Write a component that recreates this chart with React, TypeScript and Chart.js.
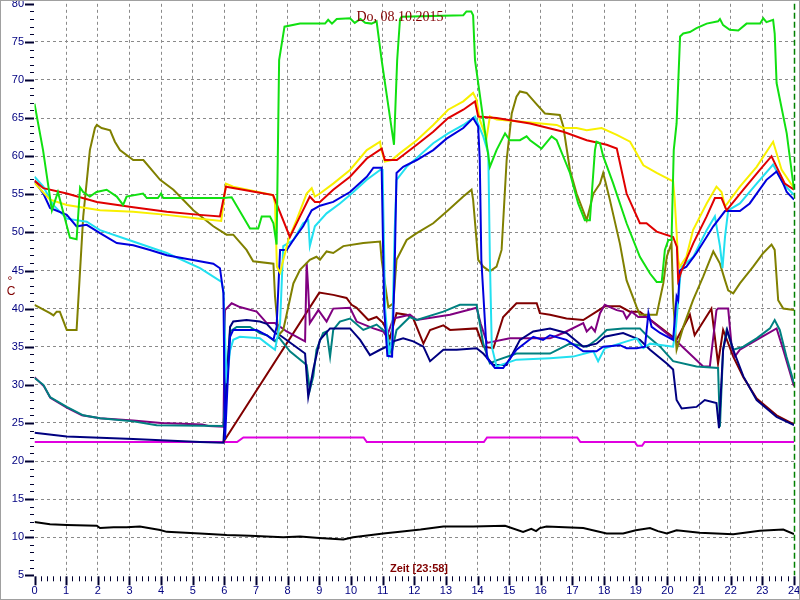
import { useEffect, useRef } from "react";
import { Chart, registerables } from "chart.js";

Chart.register(...registerables);

type P = [number, number];

const titleText = "Do, 08.10.2015";
const xAxisTitle = "Zeit [23:58]";
const yAxisTitleParts = ["°", "C"];
const xMin = 0;
const xMax = 24;
const yMin = 5;
const yMax = 80;

const green: P[] = [
  [0, 66.9], [0.27, 60.8], [0.55, 52.9], [0.74, 55.3], [1.12, 49.3], [1.33, 49.1], [1.44, 55.9], [1.54, 55.3],
  [1.75, 54.7], [1.96, 55.3], [2.28, 55.6], [2.6, 54.7], [2.8, 53.6], [2.91, 54.7], [3.43, 55.1], [3.55, 54.5],
  [3.9, 54.5], [4.0, 55.1], [4.07, 54.5], [5.97, 54.5], [6.23, 54.6], [6.81, 50.5], [7.07, 50.5], [7.18, 52.1],
  [7.44, 52.1], [7.55, 51.2], [7.65, 48.4], [7.73, 72.6], [7.9, 77], [8.39, 77.4], [9.18, 77.4], [9.28, 77.9],
  [9.4, 77.4], [9.55, 78], [9.97, 78.1], [10.12, 77.5], [10.3, 78], [10.45, 77.5], [10.65, 77.4], [10.81, 77.7],
  [10.97, 72.6], [11.36, 61.5], [11.46, 72.6], [11.55, 78], [11.6, 78.3], [13.55, 78.5], [13.65, 79], [13.8, 79],
  [13.86, 78.5], [13.92, 72.6], [14.39, 58.6], [14.6, 60.8], [14.87, 63], [15.02, 62.1], [15.34, 62.1], [15.55, 62.6],
  [15.66, 62.1], [16.02, 61], [16.34, 62.6], [16.5, 62.1], [16.92, 57.8], [17.18, 53.8], [17.39, 51.6], [17.55, 51.6],
  [17.71, 60.8], [17.76, 61.9], [17.87, 61.7], [17.97, 60], [18.28, 56.5], [18.71, 51.2], [19.13, 46.8], [19.45, 44.6],
  [19.66, 43.5], [19.82, 43.5], [19.92, 47.7], [20.03, 49], [20.13, 49], [20.2, 60.8], [20.29, 64.3], [20.4, 75.7],
  [20.5, 76.1], [20.71, 76.3], [20.92, 76.8], [21.24, 77.4], [21.6, 77.7], [21.66, 78], [21.76, 77.2], [21.97, 76.6],
  [22.24, 76.5], [22.5, 77.4], [22.93, 77.4], [23.03, 78.1], [23.13, 77.6], [23.34, 77.9], [23.39, 76.1], [23.45, 69.6],
  [23.77, 63], [24, 55.6],
];

const yellow: P[] = [
  [0, 56.5], [0.49, 54.3], [1.02, 53.6], [2.07, 52.9], [3.12, 52.7], [4.18, 52.3], [5.23, 51.8], [5.9, 51.5],
  [6.05, 56.4], [6.28, 56], [7.54, 54.9], [7.6, 53.8], [7.66, 45.5], [7.76, 44.7], [8.02, 49], [8.28, 51.6],
  [8.6, 55.1], [8.76, 55.8], [8.86, 54.7], [9.02, 55.1], [9.44, 56.4], [9.97, 58.2], [10.5, 60.8], [10.92, 61.9],
  [10.95, 61], [11.07, 59.3], [11.29, 59.5], [11.55, 60.4], [12.08, 62.1], [12.6, 64.1], [13.07, 66.1], [13.55, 67.2],
  [13.86, 68.3], [13.97, 67.4], [14.07, 64.8], [14.28, 62.3], [14.39, 65.2], [14.6, 64.8], [15.5, 64.5], [16.5, 64.1],
  [16.71, 63.7], [17.13, 63.7], [17.45, 63.4], [17.92, 63.7], [18.4, 62.8], [18.82, 61.9], [19.24, 58.8], [19.66, 57.8],
  [20.18, 56.7], [20.23, 54.3], [20.34, 46.4], [20.39, 45.5], [20.6, 46.8], [20.81, 50.3], [21.24, 53.8], [21.55, 56],
  [21.71, 55.3], [21.82, 53.4], [22.29, 56], [22.82, 58.6], [23.34, 61.9], [23.61, 58.2], [24, 55.8],
];

const red: P[] = [
  [0, 56.8], [0.28, 55.8], [1.02, 55.1], [1.97, 54], [3.12, 53.3], [4.18, 52.7], [5.23, 52.3], [5.86, 52.1],
  [6.05, 56], [7.12, 55.2], [7.54, 54.9], [8.07, 49.4], [8.39, 52.1], [8.7, 54.7], [8.86, 54], [9.02, 54],
  [9.44, 55.6], [9.97, 57.3], [10.5, 59.7], [10.97, 61], [11.07, 59.5], [11.45, 59.5], [12.08, 61.5], [12.6, 63.2],
  [13.07, 65], [13.55, 66.1], [13.92, 67.2], [14.02, 65.2], [14.6, 65], [15.66, 64.3], [16.71, 63.2], [17.45, 62.1],
  [18.08, 61.5], [18.4, 61], [18.71, 55.1], [19.13, 51.2], [19.34, 51.2], [19.66, 50.1], [20.18, 49.4], [20.3, 48.1],
  [20.34, 43.7], [20.45, 45], [20.82, 48.6], [21.24, 52.1], [21.5, 54.5], [21.71, 54.5], [21.87, 52.9], [22.4, 55.6],
  [22.92, 58.2], [23.29, 60], [23.45, 58.6], [23.71, 56.4], [24, 55.6],
];

const cyan: P[] = [
  [0, 57.3], [0.28, 56], [0.59, 53.6], [1.02, 51.8], [1.65, 51.4], [2.07, 50.3], [3.12, 48.8], [4.18, 47.3],
  [5.23, 45.3], [5.91, 43.5], [5.97, 42.4], [6.07, 30.2], [6.18, 34.5], [6.28, 35.9], [6.49, 36.3], [7.12, 36.1],
  [7.34, 35.4], [7.6, 34.6], [7.76, 38.1], [7.86, 48.2], [8.18, 49], [8.49, 51.2], [8.65, 51.6], [8.7, 48.2],
  [8.86, 50.8], [9.23, 52.5], [9.65, 53.8], [9.97, 54.9], [10.5, 56.9], [10.92, 58.2], [11.0, 58.2], [11.08, 40],
  [11.2, 34.1], [11.3, 36], [11.38, 50], [11.44, 56.9], [11.76, 58.6], [12.6, 61.7], [13.07, 63], [13.55, 64.1],
  [13.92, 65.2], [14.18, 62.6], [14.34, 60.4], [14.39, 46.4], [14.45, 35], [14.6, 32.4], [15.23, 33.3], [16.29, 33.5],
  [17.02, 33.7], [17.66, 34.4], [17.81, 33.1], [18.02, 34.8], [18.71, 35.7], [19.03, 36.1], [19.24, 34.8], [19.45, 35.4],
  [20.18, 35], [20.27, 37.6], [20.4, 44], [20.45, 45.5], [20.82, 46.8], [21.24, 50.3], [21.5, 52.1], [21.66, 48.2],
  [21.74, 45.3], [21.82, 49.4], [21.92, 52.9], [22.29, 53.8], [22.82, 56.4], [23.34, 58.9], [23.66, 56.4], [24, 54.9],
];

const blue: P[] = [
  [0, 56.7], [0.28, 55.1], [0.49, 53.2], [1.02, 52.3], [1.33, 50.8], [1.65, 51], [2.07, 49.9], [2.6, 48.6],
  [3.12, 48.3], [3.65, 47.7], [4.18, 47], [4.7, 46.6], [5.65, 45.9], [5.86, 45.3], [5.97, 42], [6.02, 22.8],
  [6.1, 30], [6.18, 36.3], [6.28, 37.2], [7.02, 37.2], [7.34, 36.5], [7.55, 35.9], [7.65, 37.6], [7.76, 47.7],
  [7.97, 47.7], [8.18, 49], [8.49, 50.8], [8.76, 52.9], [9.02, 53.5], [9.44, 54], [9.97, 55.3], [10.5, 57.3],
  [10.71, 58.5], [10.97, 58.5], [11.05, 40], [11.15, 33.8], [11.3, 33.7], [11.38, 45], [11.44, 57.8], [11.65, 58.6],
  [12.08, 59.5], [12.6, 60.8], [13.02, 62.3], [13.55, 63.7], [13.86, 65], [14.02, 63.9], [14.07, 59.5], [14.12, 46.4],
  [14.3, 33.5], [14.55, 32.2], [14.81, 32.2], [15.23, 34.6], [15.76, 36.3], [16.07, 35.9], [16.29, 36.5], [16.81, 35.9],
  [17.34, 34.4], [17.76, 34.4], [17.97, 35], [18.5, 35.2], [18.71, 34.8], [19.03, 34.8], [19.29, 35], [19.4, 39.4],
  [19.5, 37.6], [19.77, 36.8], [20.18, 35.9], [20.29, 41.6], [20.34, 41.1], [20.39, 45], [20.6, 45.5], [20.92, 47.3],
  [21.45, 50.8], [21.82, 52.8], [22.29, 52.8], [22.6, 53.8], [23.13, 56.9], [23.45, 58], [23.66, 56.4], [23.77, 55.3],
  [24, 54.3],
];

const olive: P[] = [
  [0, 40.5], [0.49, 39.4], [0.6, 39.1], [0.7, 39.6], [0.8, 39.6], [1.02, 37.2], [1.33, 37.2], [1.54, 52.1],
  [1.75, 60.8], [1.91, 63.7], [1.97, 64.1], [2.12, 63.7], [2.39, 63.4], [2.54, 61.9], [2.7, 60.8], [3.12, 59.5],
  [3.44, 59.5], [3.97, 56.9], [4.39, 55.6], [5.02, 52.9], [5.65, 50.8], [6.07, 49.7], [6.28, 49.7], [6.7, 47.7],
  [6.91, 46.2], [7.55, 45.9], [7.6, 41.6], [7.71, 36.5], [7.86, 37.2], [8.18, 43.3], [8.39, 45.1], [8.7, 46.4],
  [8.91, 46.8], [9.02, 46.4], [9.23, 47.5], [9.44, 47.3], [9.76, 48.2], [10.39, 48.6], [10.92, 48.8], [10.97, 46.4],
  [11.18, 40.2], [11.34, 40.7], [11.44, 46.4], [11.55, 47.3], [11.76, 49], [12.08, 49.9], [12.6, 51.2], [13.07, 52.9],
  [13.55, 54.7], [13.81, 55.6], [13.86, 54.3], [14.02, 46.4], [14.18, 45.5], [14.39, 44.9], [14.6, 45.5], [14.76, 47.7],
  [14.92, 59.5], [15.08, 65.6], [15.23, 67.8], [15.34, 68.5], [15.55, 68.3], [15.87, 66.8], [16.13, 65.6], [16.6, 65.4],
  [16.71, 63.9], [16.92, 58.2], [17.13, 55.1], [17.45, 51.6], [17.66, 55.1], [17.87, 56.4], [17.97, 57.8], [18.08, 56],
  [18.18, 54.3], [18.5, 48.5], [18.71, 43.7], [19.03, 40.2], [19.13, 39.2], [19.66, 39.2], [19.87, 43.3], [19.98, 46.8],
  [20.13, 48.6], [20.18, 41.1], [20.29, 34.6], [20.5, 37.6], [20.81, 41.1], [21.13, 44.2], [21.45, 47.5], [21.66, 45.9],
  [21.82, 43.7], [21.92, 42.4], [22.08, 42], [22.29, 43.3], [22.71, 45.5], [23.03, 47.3], [23.29, 48.4], [23.39, 47.7],
  [23.5, 41.1], [23.66, 40], [24, 39.8],
];

const purple: P[] = [
  [0, 31], [0.3, 29.8], [0.5, 28.3], [1.02, 27], [1.5, 26], [2.07, 25.6], [3.12, 25.3], [4.0, 25],
  [5.3, 24.8], [5.5, 24.6], [5.97, 24.5], [6.02, 39.8], [6.23, 40.7], [6.49, 40.2], [7.02, 39.6], [7.34, 38.1],
  [7.6, 38.1], [7.97, 37], [8.55, 35.7], [8.6, 46], [8.65, 42.5], [8.7, 38.1], [8.97, 39.8], [9.23, 38.3],
  [9.44, 40], [9.97, 40.1], [10.18, 38.3], [10.71, 37.4], [11.02, 37], [11.13, 36.3], [11.34, 38.7], [11.86, 39.2],
  [12.08, 38.5], [13.13, 39.2], [13.97, 40.1], [14.1, 38], [14.3, 35.5], [15.02, 36.1], [16.29, 36.1], [16.71, 36.8],
  [17.34, 38.1], [17.45, 37], [17.6, 37.6], [17.71, 37], [17.87, 39.4], [18.02, 40.5], [18.4, 39.8], [18.6, 39.6],
  [18.71, 38.7], [18.87, 39.6], [19.08, 38.9], [19.34, 38.9], [20.29, 35.7], [21.13, 32.4], [21.34, 32.4], [21.55, 39.8],
  [21.6, 40], [21.92, 40], [22.03, 35], [22.13, 33.7], [22.29, 34.6], [22.82, 35.9], [23.45, 37.4], [23.66, 34.6],
  [24, 29.8],
];

const teal: P[] = [
  [0, 30.9], [0.28, 30], [0.49, 28.4], [1.02, 27.1], [1.54, 26], [2.07, 25.6], [3.12, 25.2], [3.86, 24.7],
  [5.97, 24.6], [6.1, 33], [6.18, 37], [6.39, 37.6], [6.81, 37.6], [7.12, 36.8], [7.34, 36.5], [7.6, 35.7],
  [7.71, 36.3], [8.07, 34.4], [8.6, 32.6], [8.7, 29.3], [8.81, 31.1], [8.91, 34.6], [9.12, 36.8], [9.23, 37],
  [9.34, 33.7], [9.44, 37.2], [9.65, 38.3], [9.97, 38.7], [10.39, 37.2], [10.81, 37.9], [11.13, 36.8], [11.28, 34.1],
  [11.44, 37.2], [11.86, 38.9], [12.08, 38.5], [12.92, 39.6], [13.44, 40.5], [13.97, 40.5], [14.18, 35.4], [14.39, 32.8],
  [14.6, 33.2], [15.23, 34.1], [16.29, 34.1], [16.92, 35.4], [17.45, 35], [17.76, 35.9], [18.08, 37.2], [18.6, 37.4],
  [19.13, 37.4], [19.34, 36.5], [19.77, 35], [20.18, 33.1], [20.92, 32.4], [21.6, 32.2], [21.66, 24.5], [21.76, 34.6],
  [21.87, 37.2], [22.08, 34.6], [22.4, 35], [22.82, 36.1], [23.24, 37.4], [23.39, 38.5], [23.55, 37.2], [23.76, 33.7],
  [24, 30.2],
];

const navy: P[] = [
  [0, 23.7], [1.02, 23.2], [3.12, 22.9], [5.23, 22.5], [5.97, 22.4], [6.18, 37.6], [6.28, 38.3], [6.7, 38.5],
  [7.12, 38.3], [7.34, 38], [7.6, 36.8], [7.76, 36.5], [8.55, 34.1], [8.65, 28.4], [8.81, 32], [9.02, 35.9],
  [9.34, 37.4], [9.97, 37.4], [10.29, 35.9], [10.6, 33.9], [10.92, 34.6], [11.13, 35], [11.34, 35.7], [11.65, 36.1],
  [11.97, 35.7], [12.29, 35], [12.5, 33.1], [12.92, 34.6], [13.34, 34.6], [13.97, 34.8], [14.18, 34.1], [14.5, 32.6],
  [14.92, 32.6], [15.34, 35.9], [15.76, 37], [16.29, 37.4], [16.81, 36.8], [17.34, 35], [17.76, 35.4], [18.02, 36.3],
  [18.6, 36.8], [19.13, 35.9], [19.45, 34.6], [19.98, 32.8], [20.18, 32], [20.29, 28], [20.45, 26.9], [20.92, 27.1],
  [21.18, 28], [21.55, 27.6], [21.63, 24.3], [21.76, 34.6], [21.89, 37.2], [22.08, 34.6], [22.4, 31.1], [22.82, 28],
  [23.45, 25.8], [24, 24.7],
];

const maroon: P[] = [
  [5.97, 22.5], [9.0, 42.1], [9.44, 41.8], [9.86, 41.4], [10.02, 40.5], [10.18, 40.1], [10.55, 38.5], [10.81, 38.9],
  [11.02, 38.1], [11.23, 36.1], [11.44, 39.4], [11.76, 39.2], [11.97, 38.7], [12.29, 35.4], [12.5, 37.2], [12.92, 37.8],
  [13.13, 37.2], [13.97, 37.4], [14.18, 35], [14.5, 34.8], [14.81, 38.9], [15.23, 40.7], [15.87, 40.7], [15.97, 39.4],
  [16.29, 39.2], [16.81, 38.7], [17.34, 38.5], [17.76, 39.6], [18.02, 40.3], [18.5, 40.3], [18.81, 39.6], [19.13, 39.6],
  [20.29, 35.9], [20.71, 39.2], [20.86, 36.5], [21.39, 40], [21.6, 32.8], [21.76, 37.2], [22.08, 33.7], [22.4, 31],
  [22.82, 28.2], [23.45, 26], [24, 24.8],
];

const magenta: P[] = [
  [0, 22.5], [6.4, 22.5], [6.6, 23.1], [10.4, 23.1], [10.5, 22.5], [14.2, 22.5], [14.3, 23.1], [17.15, 23.1],
  [17.25, 22.5], [18.97, 22.5], [19.05, 22], [19.2, 22], [19.28, 22.5], [24, 22.5],
];

const black: P[] = [
  [0, 12], [0.49, 11.7], [1.02, 11.6], [1.97, 11.5], [2.07, 11.2], [2.5, 11.3], [2.91, 11.3], [3.33, 11.4],
  [3.97, 10.95], [4.18, 10.7], [5.23, 10.5], [6.07, 10.3], [6.81, 10.2], [7.86, 10], [8.39, 10.1], [9.0, 9.9],
  [9.76, 9.7], [10.07, 10], [11.02, 10.5], [11.55, 10.7], [12.2, 11], [12.92, 11.4], [13.86, 11.4], [14.87, 11.5],
  [15.44, 10.7], [15.7, 11.1], [15.85, 10.8], [15.97, 11.2], [16.18, 11.4], [17.34, 11.2], [18.08, 10.5], [18.6, 10.5],
  [19.0, 10.9], [19.45, 11.2], [19.7, 10.8], [19.98, 10.5], [20.29, 10.9], [21.02, 10.6], [22.08, 10.4], [22.92, 10.85],
  [23.66, 11], [24, 10.4],
];

// drawing order: first item ends up on top
const seriesData: P[][] = [green, red, yellow, blue, cyan, olive, navy, teal, purple, maroon, magenta, black];
const seriesColors = ["#11e011", "#e00000", "#f8f000", "#0000dd", "#22e0f0", "#808000", "#000080", "#008080", "#800080", "#800000", "#e000e0", "#000000"];

const AXIS_FONT = "'Liberation Sans Narrow', 'Liberation Sans', Arial, sans-serif";

const decorPlugin = {
  id: "decor",
  afterDraw(chart: any) {
    const ctx = chart.ctx as CanvasRenderingContext2D;
    const { left, top, bottom } = chart.chartArea;
    const xs = chart.scales.x;
    const ys = chart.scales.y;
    ctx.save();
    // y ticks
    ctx.strokeStyle = "#000030";
    for (let v = yMin; v <= yMax; v++) {
      const py = Math.round(ys.getPixelForValue(v)) + 0.5;
      const major = v % 5 === 0;
      ctx.lineWidth = major ? 2 : 1;
      ctx.beginPath();
      ctx.moveTo(major ? left - 9.5 : left - 4.5, py);
      ctx.lineTo(left - 0.5, py);
      ctx.stroke();
    }
    // x ticks (every 0.2 h)
    for (let i = xMin * 5; i <= xMax * 5; i++) {
      const v = i / 5;
      const px = Math.round(xs.getPixelForValue(v)) + 0.5;
      const major = i % 5 === 0;
      ctx.lineWidth = major ? 2 : 1;
      ctx.beginPath();
      ctx.moveTo(px, bottom + 1);
      ctx.lineTo(px, bottom + (major ? 10 : 6));
      ctx.stroke();
    }
    // green dashed line at the end of the day
    const gx = Math.round(xs.getPixelForValue(xMax)) + 0.5;
    ctx.strokeStyle = "#008000";
    ctx.lineWidth = 1.5;
    ctx.setLineDash([6, 3]);
    ctx.beginPath();
    ctx.moveTo(gx, top);
    ctx.lineTo(gx, bottom);
    ctx.stroke();
    ctx.setLineDash([]);
    // texts
    ctx.fillStyle = "#800000";
    ctx.textAlign = "center";
    ctx.textBaseline = "middle";
    ctx.font = "14px 'Liberation Serif', 'Times New Roman', serif";
    ctx.fillText(titleText, 400, 17);
    ctx.font = "bold 11px 'Liberation Sans', Arial, sans-serif";
    ctx.fillText(xAxisTitle, 419, 569);
    ctx.font = "12px 'Liberation Sans', Arial, sans-serif";
    ctx.fillText(yAxisTitleParts[0], 10, 282);
    ctx.fillText(yAxisTitleParts[1], 11, 292);
    // outer border
    ctx.strokeStyle = "#a0a0a0";
    ctx.lineWidth = 1;
    ctx.strokeRect(0.5, 0.5, chart.width - 1, chart.height - 1);
    ctx.restore();
  },
};

export default function App() {
  const ref = useRef<HTMLCanvasElement | null>(null);
  useEffect(() => {
    if (!ref.current) return;
    const chart = new Chart(ref.current, {
      type: "line",
      data: {
        datasets: seriesData.map((d, i) => ({
          data: d.map(([x, y]) => ({ x, y })),
          borderColor: seriesColors[i],
          backgroundColor: seriesColors[i],
          borderWidth: 2,
          pointRadius: 0,
          tension: 0,
          fill: false,
        })),
      },
      options: {
        animation: false,
        responsive: false,
        devicePixelRatio: 1,
        layout: { padding: { top: 3.8, right: 6, left: 0, bottom: 0 } },
        plugins: { legend: { display: false }, tooltip: { enabled: false }, title: { display: false } },
        scales: {
          x: {
            type: "linear",
            min: xMin,
            max: xMax,
            afterFit: (s: any) => {
              s.height = 24.7;
              s.paddingLeft = 0;
              s.paddingRight = 0;
            },
            ticks: {
              stepSize: 1,
              autoSkip: false,
              maxRotation: 0,
              padding: 9,
              color: "#000080",
              font: { family: AXIS_FONT, size: 11 },
            },
            grid: {
              drawTicks: false,
              lineWidth: 1,
              color: (c: any) => (c.tick && (c.tick.value === xMin || c.tick.value === xMax) ? "rgba(0,0,0,0)" : "#8a8a8a"),
            },
            border: { display: false, dash: [3, 3] },
          },
          y: {
            type: "linear",
            min: yMin,
            max: yMax,
            afterFit: (s: any) => {
              s.width = 34.5;
              s.paddingTop = 0;
              s.paddingBottom = 0;
            },
            ticks: {
              stepSize: 5,
              autoSkip: false,
              padding: 10.5,
              color: "#000080",
              font: { family: AXIS_FONT, size: 11 },
            },
            grid: {
              drawTicks: false,
              lineWidth: 1,
              color: (c: any) => (c.tick && (c.tick.value === yMin || c.tick.value === yMax) ? "rgba(0,0,0,0)" : "#8a8a8a"),
            },
            border: { display: false, dash: [3, 3] },
          },
        },
      },
      plugins: [decorPlugin],
    });
    return () => chart.destroy();
  }, []);
  return (
    <div style={{ position: "absolute", left: 0, top: 0, width: 800, height: 600, background: "#ffffff" }}>
      <canvas ref={ref} width={800} height={600} style={{ display: "block", width: 800, height: 600 }} />
    </div>
  );
}
